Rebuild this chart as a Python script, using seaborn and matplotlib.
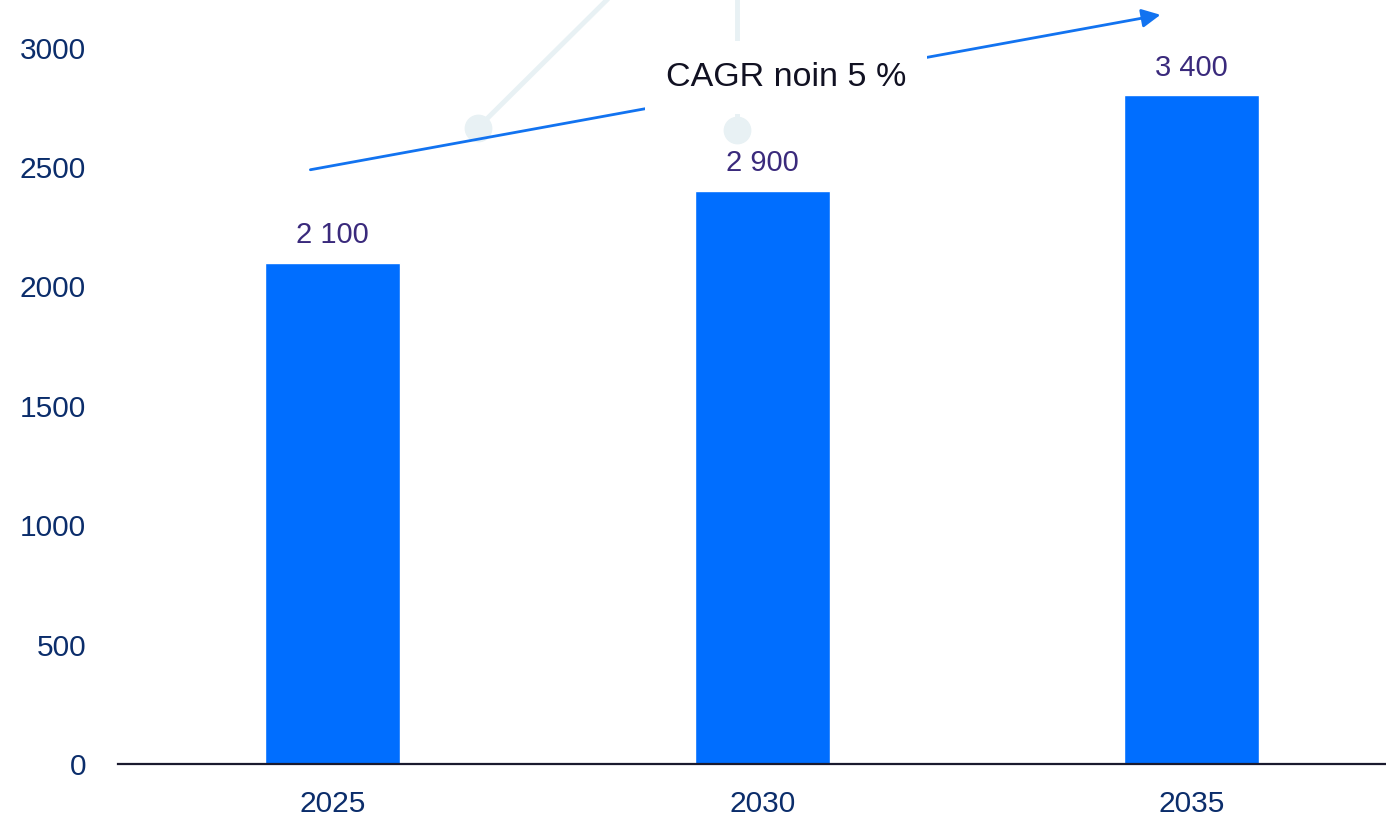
import matplotlib
matplotlib.use("Agg")
import matplotlib.pyplot as plt
import pandas as pd
import seaborn as sns

# chart data
years = ["2025", "2030", "2035"]
bar_values = [2100, 2400, 2800]
bar_labels = ["2 100", "2 900", "3 400"]
y_ticks = [0, 500, 1000, 1500, 2000, 2500, 3000]
cagr_text = "CAGR noin 5 %"

BAR_COLOR = "#006EFF"
TICK_COLOR = "#0B2D6B"
LABEL_COLOR = "#3A2A7C"
DECO_COLOR = "#E8F1F4"

sns.set_theme(style="white")
plt.rcParams["font.family"] = ["Liberation Sans", "DejaVu Sans"]

df = pd.DataFrame({"year": years, "value": bar_values})

fig = plt.figure(figsize=(13.86, 8.17), dpi=100)
ax = fig.add_axes([0.0851, 0.0649, 0.9149, 0.9351])

sns.barplot(data=df, x="year", y="value", color=BAR_COLOR, width=0.314,
            saturation=1, ax=ax, zorder=2)

ax.set_xlim(-0.5, 2.452)
ax.set_ylim(0, 3200)
ax.set_yticks(y_ticks)
ax.set_xlabel("")
ax.set_ylabel("")

# light decorative connector lines with round ends
ax.plot([0.338, 0.75], [2665, 3400], color=DECO_COLOR, lw=3.5, zorder=1,
        solid_capstyle="round")
ax.plot([0.941, 0.941], [2656, 3400], color=DECO_COLOR, lw=3.5, zorder=1)
ax.plot([0.338, 0.941], [2665, 2656], ls="none", marker="o", ms=19,
        color=DECO_COLOR, zorder=1)

# CAGR arrow, broken by the white box behind the text
ax.annotate("", xy=(1.927, 3138), xytext=(-0.052, 2489),
            arrowprops=dict(arrowstyle="-|>", color="#1273F0", lw=2,
                            mutation_scale=28, shrinkA=0, shrinkB=0),
            zorder=3)
ax.text(1.055, 2874, cagr_text, ha="center", va="center", fontsize=24.5,
        color="#111122", zorder=4,
        bbox=dict(boxstyle="square,pad=0.62", fc="white", ec="none"))

for container in ax.containers:
    ax.bar_label(container, labels=bar_labels, padding=10, fontsize=21,
                 color=LABEL_COLOR)

for side in ["top", "right", "left"]:
    ax.spines[side].set_visible(False)
ax.spines["bottom"].set_color("#1a1a2e")
ax.spines["bottom"].set_linewidth(1.6)

ax.tick_params(axis="x", length=0, pad=19, labelsize=21.5, labelcolor=TICK_COLOR)
ax.tick_params(axis="y", length=0, pad=23, labelsize=21.5, labelcolor=TICK_COLOR)
ax.grid(False)

fig.savefig("out.png", dpi=100)
